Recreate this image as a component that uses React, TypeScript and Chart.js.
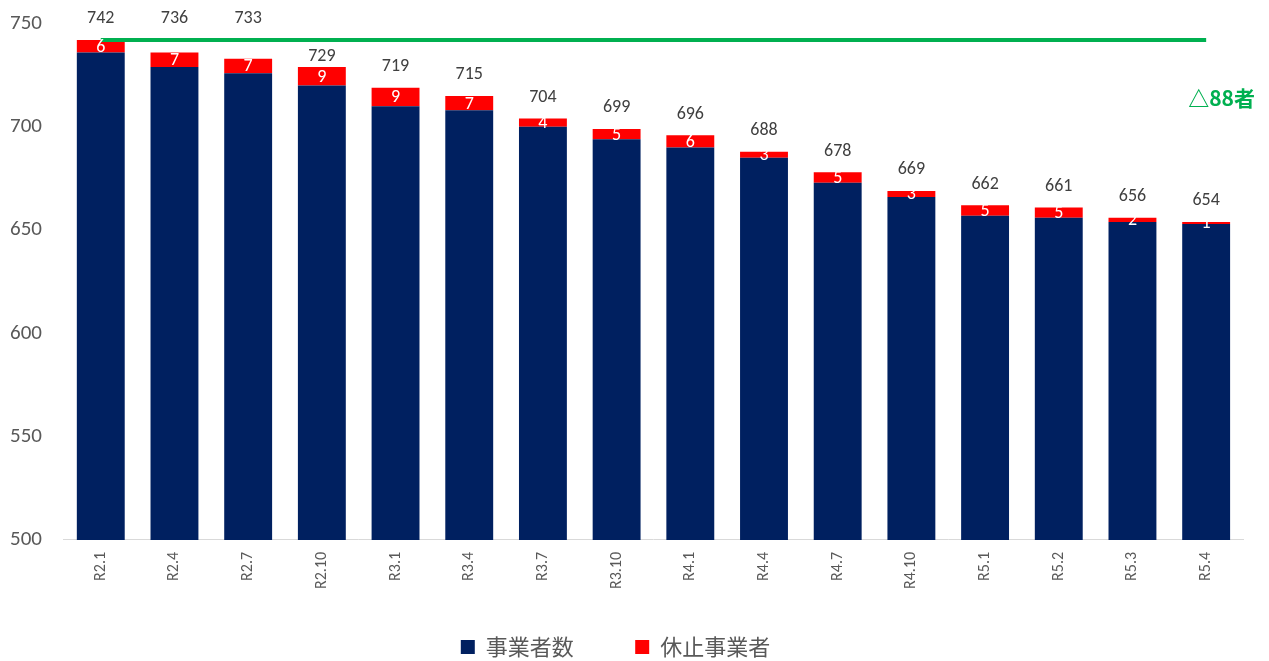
import React, { useEffect, useRef } from "react";
import { Chart, registerables } from "chart.js";

Chart.register(...registerables);

const categories = ["R2.1", "R2.4", "R2.7", "R2.10", "R3.1", "R3.4", "R3.7", "R3.10", "R4.1", "R4.4", "R4.7", "R4.10", "R5.1", "R5.2", "R5.3", "R5.4"];
const totals = [742, 736, 733, 729, 719, 715, 704, 699, 696, 688, 678, 669, 662, 661, 656, 654];
const suspended = [6, 7, 7, 9, 9, 7, 4, 5, 6, 3, 5, 3, 5, 5, 2, 1];
const active = totals.map((t, i) => t - suspended[i]);
const baseline = totals.map(() => totals[0]);
const yTicks = [500, 550, 600, 650, 700, 750];
const deltaLabel = "△88者";
const deltaLabelValue = 714;

const FONT = "Carlito, Calibri, 'Noto Sans', 'Noto Sans CJK JP', sans-serif";
const CJK = "'Noto Sans CJK JP', 'Noto Sans', sans-serif";

const labelPlugin = {
  id: "labels",
  afterDatasetsDraw(chart: any) {
    const ctx = chart.ctx;
    const y = chart.scales.y;
    const metaRed = chart.getDatasetMeta(1);
    const lineY = y.getPixelForValue(baseline[0]);
    ctx.save();
    ctx.textAlign = "center";
    ctx.textBaseline = "middle";
    metaRed.data.forEach((bar: any, i: number) => {
      ctx.font = `18px ${FONT}`;
      ctx.fillStyle = "#ffffff";
      const mid = (bar.y + bar.base) / 2;
      ctx.fillText(String(suspended[i]), bar.x, mid + 1);
      let ly = y.getPixelForValue(totals[i]) - 21;
      if (ly < lineY + 2) ly = lineY - 22;
      else if (ly < lineY + 16) ly = lineY + 16;
      ctx.font = `18px ${FONT}`;
      ctx.fillStyle = "#404040";
      ctx.fillText(String(totals[i]), bar.x, ly);
    });
    ctx.font = `bold 21px ${CJK}`;
    ctx.fillStyle = "#00b050";
    ctx.textAlign = "right";
    ctx.fillText(deltaLabel, chart.chartArea.right + 12, y.getPixelForValue(deltaLabelValue));
    ctx.restore();
  },
};

export default function App() {
  const ref = useRef<HTMLCanvasElement>(null);
  useEffect(() => {
    const chart = new Chart(ref.current!, {
      type: "bar",
      data: {
        labels: categories,
        datasets: [
          {
            type: "bar",
            label: "事業者数",
            data: active,
            backgroundColor: "#002060",
            stack: "s",
            order: 2,
            barPercentage: 0.65,
            categoryPercentage: 1,
          },
          {
            type: "bar",
            label: "休止事業者",
            data: suspended,
            backgroundColor: "#ff0000",
            stack: "s",
            order: 2,
            barPercentage: 0.65,
            categoryPercentage: 1,
          },
          {
            type: "line",
            label: "line",
            data: baseline,
            borderColor: "#00b050",
            borderWidth: 4,
            pointRadius: 0,
            stack: "l",
            order: 1,
          } as any,
        ],
      },
      options: {
        animation: false,
        responsive: true,
        maintainAspectRatio: false,
        layout: { padding: { left: 8, right: 26, top: 4, bottom: 0 } },
        scales: {
          x: {
            stacked: true,
            grid: { display: false, drawTicks: false },
            border: { color: "#d9d9d9", width: 1 },
            ticks: {
              maxRotation: 90,
              minRotation: 90,
              padding: 12,
              color: "#595959",
              font: { size: 16, family: FONT },
            },
          },
          y: {
            stacked: true,
            min: 500,
            max: 750,
            afterBuildTicks: (axis: any) => {
              axis.ticks = yTicks.map((v) => ({ value: v }));
            },
            grid: { display: false, drawTicks: false },
            border: { display: false },
            ticks: {
              padding: 22,
              color: "#595959",
              font: { size: 21, family: FONT },
            },
          },
        },
        plugins: {
          legend: {
            position: "bottom",
            labels: {
              filter: (item: any) => item.datasetIndex !== 2,
              generateLabels: (c: any) => {
                const items = (Chart.defaults.plugins.legend.labels as any).generateLabels(c);
                items.forEach((it: any) => {
                  if (it.datasetIndex === 0) it.text = it.text + "\u3000\u2009";
                });
                return items;
              },
              boxWidth: 14,
              boxHeight: 14,
              padding: 35,
              color: "#595959",
              font: { size: 22, family: CJK },
            },
          },
          tooltip: { enabled: false },
        },
      },
      plugins: [labelPlugin],
    });
    return () => chart.destroy();
  }, []);
  return (
    <div style={{ position: "fixed", left: -20, top: -11, width: 1289, height: 679, background: "#fff" }}>
      <canvas ref={ref} />
    </div>
  );
}
